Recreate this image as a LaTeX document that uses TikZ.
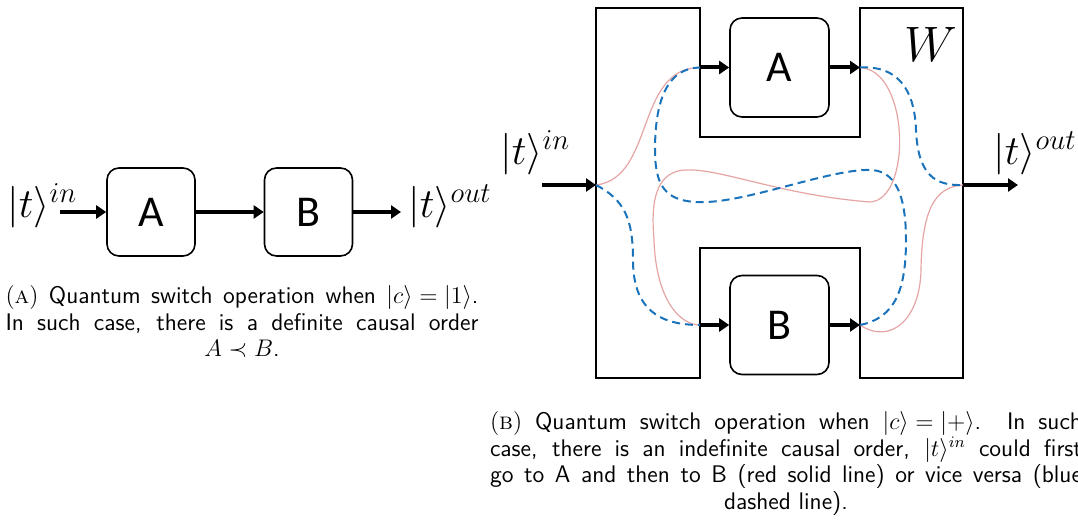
\documentclass[tikz,border=0pt]{standalone}
\usepackage{fontspec}
\newfontfamily\boxfont{Carlito}
\usetikzlibrary{arrows.meta}
\definecolor{redpath}{HTML}{E6A5A5}
\definecolor{bluepath}{HTML}{1A73BA}
\newcommand{\capline}[2]{\makebox[#1][s]{\thickmuskip=5mu\relax #2}}
\tikzset{
  gate/.style={draw, line width=0.8pt, rounded corners=6pt, minimum size=44pt,
    font=\boxfont\fontsize{22}{24}\selectfont},
  wire/.style={line width=2pt, -{Triangle[length=5pt,width=6.5pt]}},
  ab/.style={draw=redpath, line width=0.6pt},
  ba/.style={draw=bluepath, line width=1pt, dash pattern=on 4pt off 2.5pt},
  ket/.style={font=\fontsize{20}{24}\selectfont, inner sep=0pt},
  capt/.style={font=\sffamily\fontsize{12}{13.35}\selectfont, inner sep=0pt, align=center}
}
\begin{document}
\begin{tikzpicture}[x=0.5pt, y=-0.5pt]
    \useasboundingbox (0,0) rectangle (1078,523);
    % (a) definite order
    \node[gate] (a1) at (151,212) {A};
    \node[gate] (b1) at (308.5,212) {B};
    \node[ket, anchor=base west] (in1) at (7,218) {$|t\rangle^{in}$};
    \node[ket, anchor=base west] (out1) at (408,218) {$|t\rangle^{out}$};
    \coordinate (s1) at (60,212);
    \coordinate (e1) at (401,212);
    \draw[wire] (s1) -- (a1);
    \draw[wire] (a1) -- (b1);
    \draw[wire] (b1) -- (e1);
    \node[capt, anchor=north] (cap1) at (242,285)
        {\capline{236.5pt}{{\rmfamily(\textsc{a})} Quantum switch operation when $|c\rangle = |1\rangle$.}\\
         \capline{236.5pt}{In such case, there is a definite causal order}\\
         $A \prec B$.};
    % (b) quantum switch
    \draw[line width=0.7pt] (596,8) -- (700,8) -- (700,137) -- (860,137) -- (860,8)
        -- (963,8) -- (963,378) -- (860,378) -- (860,248) -- (700,248)
        -- (700,378) -- (596,378) -- cycle;
    \node[font=\fontsize{30}{36}\selectfont, anchor=base east, inner sep=0pt] (wlab) at (958,62) {$W$};
    \node[gate, minimum size=49.5pt] (a2) at (779.5,67.5) {A};
    \node[gate, minimum size=49.5pt] (b2) at (779.5,325) {B};
    \coordinate (pin) at (596,185);
    \coordinate (pout) at (963,185);
    \coordinate (ain) at (700,67.5);
    \coordinate (aout) at (860,67.5);
    \coordinate (bin) at (700,325);
    \coordinate (bout) at (860,325);
    \coordinate (s2) at (542,185);
    \coordinate (e2) at (1018,185);
    \node[ket, anchor=base west] (in2) at (500,165) {$|t\rangle^{in}$};
    \node[ket, anchor=base west] (out2) at (993,165) {$|t\rangle^{out}$};
    % A then B
    \draw[ab] (pin) .. controls (655,178) and (635,68) .. (ain);
    \draw[ab] (aout) .. controls (910,70) and (912,200) .. (870,202)
        .. controls (780,195) and (720,168) .. (685,170)
        .. controls (650,172) and (652,215) .. (654,240)
        .. controls (656,300) and (680,325) .. (bin);
    \draw[ab] (bout) .. controls (890,345) and (920,320) .. (921,270)
        .. controls (922,200) and (940,187) .. (pout);
    % B then A
    \draw[ba] (pin) .. controls (625,200) and (633,220) .. (633,260)
        .. controls (633,310) and (660,325) .. (bin);
    \draw[ba] (bout) .. controls (895,318) and (906,290) .. (906,240)
        .. controls (906,185) and (890,168) .. (865,170)
        .. controls (820,172) and (740,205) .. (695,202)
        .. controls (665,200) and (655,185) .. (655,150)
        .. controls (655,95) and (670,68) .. (ain);
    \draw[ba] (aout) .. controls (905,65) and (915,100) .. (916,130)
        .. controls (918,175) and (935,186) .. (pout);
    \draw[wire] (s2) -- (pin);
    \draw[wire] (ain) -- (a2);
    \draw[wire] (a2) -- (aout);
    \draw[wire] (bin) -- (b2);
    \draw[wire] (b2) -- (bout);
    \draw[wire] (pout) -- (e2);
    \node[capt, anchor=north] (cap2) at (786,411)
        {\capline{296pt}{{\rmfamily(\textsc{b})} Quantum switch operation when $|c\rangle = |+\rangle$.\ \ In such}\\
         \capline{296pt}{case, there is an indefinite causal order, $|t\rangle^{in}$ could first}\\
         \capline{296pt}{go to A and then to B (red solid line) or vice versa (blue}\\
         dashed line).};
\end{tikzpicture}
\end{document}
